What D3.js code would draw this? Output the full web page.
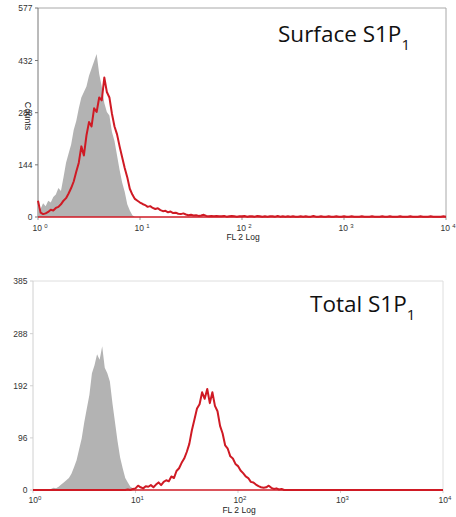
<!DOCTYPE html>
<html><head><meta charset="utf-8">
<script src="https://cdn.jsdelivr.net/npm/d3@7"></script>
<style>body{margin:0;background:#fff}svg{display:block}</style>
</head><body>
<svg id="c" width="456" height="517"></svg>
<script>
// ---- data (counts per log bin, bin width 0.025 decade) ----
const binStep = 0.025;
const decades = [0, 1, 2, 3, 4];

// Surface panel
const surfaceTicks = [0, 144, 288, 432, 577];
const surfaceIsotypeStart = 0;
const surfaceIsotype = [
  30, 22, 38, 30, 45, 40, 55, 62, 80, 72,
  110, 150, 175, 200, 240, 265, 300, 330, 345, 360,
  390, 410, 430, 450, 395, 360, 315, 290, 280, 235,
  210, 170, 130, 95, 70, 35, 18, 5, 0
];
const surfaceStainStart = 0;
const surfaceStain = [
  45, 12, 8, 10, 14, 20, 18, 25, 28, 35,
  45, 52, 65, 80, 98, 125, 150, 195, 170, 225,
  262, 250, 300, 290, 330, 322, 385, 345, 330, 285,
  250, 228, 195, 165, 135, 110, 78, 62, 50, 45,
  40, 36, 33, 28, 30, 25, 22, 24, 19, 16,
  17, 13, 15, 11, 12, 9, 8, 10, 7, 5,
  6, 4, 5, 3, 4, 6, 3, 2, 3, 2,
  3, 2, 2, 3, 1, 2, 3, 2, 1, 2,
  2, 3, 1, 2, 2, 1, 3, 2, 1, 2,
  1, 2, 2, 1, 3, 1, 2, 1, 2, 1,
  2, 1, 1, 2, 1, 2, 1, 1, 3, 1,
  1, 2, 1, 1, 2, 1, 1, 2, 1, 1,
  2, 1, 1, 2, 1, 1, 1, 2, 1, 1,
  1, 2, 1, 1, 1, 2, 1, 1, 2, 1,
  1, 1, 2, 1, 1, 1, 2, 1, 1, 1,
  2, 1, 1, 1, 2, 1, 1, 1, 1, 2,
  1
];

// Total panel
const totalTicks = [0, 96, 192, 288, 385];
const totalIsotypeStart = 0.15;
const totalIsotype = [
  0, 2, 4, 3, 6, 10, 14, 18, 22, 30,
  42, 55, 75, 95, 125, 150, 175, 215, 230, 250,
  240, 265, 225, 215, 200, 160, 125, 90, 60, 40,
  22, 14, 6, 3, 0
];
const totalStainStart = 0.9;
const totalStain = [
  0, 1, 0, 2, 3, 8, 5, 3, 7, 6,
  9, 5, 10, 14, 9, 15, 18, 16, 25, 22,
  35, 40, 50, 58, 70, 85, 110, 130, 150, 158,
  180, 168, 186, 160, 180, 155, 145, 118, 104, 82,
  76, 62, 58, 48, 44, 36, 31, 25, 22, 15,
  14, 10, 7, 5, 4, 5, 8, 4, 2, 3,
  1, 2, 0
];

const RED = "#cf1a24", GRAY = "#b3b3b3";
const svg = d3.select("#c");
svg.append("rect").attr("width", 456).attr("height", 517).attr("fill", "#fff");

function toPoints(start, arr) {
  return arr.map((v, i) => ({ e: start + i * binStep, v }));
}

function panel(o) {
  const x = d3.scaleLog().domain([1, 1e4]).range([o.x0, o.x1]);
  const y = d3.scaleLinear().domain([0, o.ymax]).range([o.yb, o.yt]);
  const g = svg.append("g");
  const px = d => x(Math.pow(10, d.e));

  // frame
  g.append("path")
    .attr("d", `M${o.x0},${o.yt}H${o.x1}V${o.yb}`)
    .attr("fill", "none").attr("stroke", o.frameColor).attr("stroke-width", 1);
  g.append("line").attr("x1", o.x0).attr("x2", o.x0).attr("y1", o.yt).attr("y2", o.yb)
    .attr("stroke", o.leftColor).attr("stroke-width", 1);

  // y ticks
  o.yticks.forEach(t => {
    g.append("line").attr("x1", o.x0 - 3).attr("x2", o.x0).attr("y1", y(t)).attr("y2", y(t))
      .attr("stroke", o.leftColor);
    g.append("text").attr("x", o.x0 - 5.5).attr("y", y(t) + 3)
      .attr("text-anchor", "end").attr("font-family", "Liberation Sans, Arial, sans-serif")
      .attr("font-size", 8.5).attr("fill", "#333").text(t);
  });

  // x ticks
  decades.forEach(d => {
    const xx = x(Math.pow(10, d));
    g.append("line").attr("x1", xx).attr("x2", xx).attr("y1", o.yb).attr("y2", o.yb + 3)
      .attr("stroke", o.tickColor);
    const t = g.append("text").attr("x", xx + 2).attr("y", o.yb + o.tickDy)
      .attr("text-anchor", "middle").attr("font-family", "Liberation Sans, Arial, sans-serif")
      .attr("font-size", 8.5).attr("fill", "#333");
    t.append("tspan").text("10" + o.sep);
    t.append("tspan").attr("font-size", 6).attr("dy", -3.5).text(d);
  });
  g.append("text").attr("x", (o.x0 + o.x1) / 2 + 1).attr("y", o.yb + o.titleDy)
    .attr("text-anchor", "middle").attr("font-family", "Liberation Sans, Arial, sans-serif")
    .attr("font-size", 8.5).attr("fill", "#222").text("FL 2 Log");

  // isotype filled histogram
  const iso = toPoints(o.isoStart, o.iso);
  g.append("path").datum(iso)
    .attr("d", d3.area().x(px).y0(y(0)).y1(d => y(d.v)))
    .attr("fill", GRAY);

  // red baseline + stain line
  const st = toPoints(o.stStart, o.st);
  const full = [{ e: 0, v: 0 }].concat(st[0].e > 0 ? st : st.slice(1));
  if (full[full.length - 1].e < 4) full.push({ e: 4, v: 0 });
  g.append("line").attr("x1", o.x0).attr("x2", o.x1).attr("y1", y(0)).attr("y2", y(0))
    .attr("stroke", RED).attr("stroke-width", 1.6);
  g.append("path").datum(o.stStart === 0 ? st : full)
    .attr("d", d3.line().x(px).y(d => y(d.v)))
    .attr("fill", "none").attr("stroke", RED).attr("stroke-width", 2)
    .attr("stroke-linejoin", "round");

  // title
  const tt = g.append("text").attr("x", o.tx).attr("y", o.ty)
    .attr("font-family", "Open Sans, Noto Sans, sans-serif").attr("font-size", 22.5).attr("fill", "#111");
  tt.append("tspan").text(o.title);
  tt.append("tspan").attr("font-size", 15).attr("dy", 8).text("1");
  return g;
}

panel({
  x0: 38, x1: 446, yt: 8, yb: 217, ymax: 577, yticks: surfaceTicks,
  frameColor: "#a8a8a8", leftColor: "#777", tickColor: "#999",
  sep: " ", tickDy: 14, titleDy: 23,
  iso: surfaceIsotype, isoStart: surfaceIsotypeStart,
  st: surfaceStain, stStart: surfaceStainStart,
  title: "Surface S1P", tx: 278, ty: 42
});
svg.append("text").attr("transform", "translate(25,116) rotate(90)")
  .attr("text-anchor", "middle").attr("font-family", "Liberation Sans, Arial, sans-serif")
  .attr("font-size", 9).attr("fill", "#222").text("Counts");

panel({
  x0: 33, x1: 443, yt: 281, yb: 490, ymax: 385, yticks: totalTicks,
  frameColor: "#dedede", leftColor: "#d0d0d0", tickColor: "#cfcfcf",
  sep: "", tickDy: 13, titleDy: 23,
  iso: totalIsotype, isoStart: totalIsotypeStart,
  st: totalStain, stStart: totalStainStart,
  title: "Total S1P", tx: 310, ty: 312
});
</script>
</body></html>
